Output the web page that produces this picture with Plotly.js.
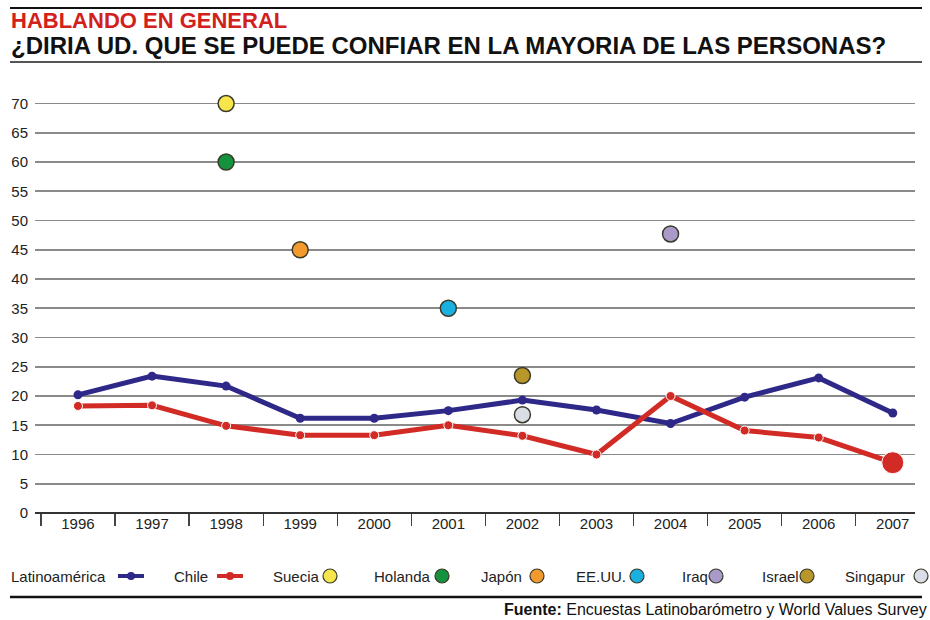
<!DOCTYPE html>
<html><head><meta charset="utf-8">
<script src="https://cdn.plot.ly/plotly-3.0.1.min.js"></script>
<style>body{margin:0;background:#fff}#chart{width:930px;height:620px}</style>
</head><body><div id="chart"></div>
<script>
const years = ['1996','1997','1998','1999','2000','2001','2002','2003','2004','2005','2006','2007'];
const latamValues = [20.2, 23.4, 21.7, 16.2, 16.2, 17.5, 19.3, 17.6, 15.3, 19.8, 23.1, 17.1];
const chileValues = [18.3, 18.4, 14.9, 13.3, 13.3, 15.0, 13.2, 10.0, 20.0, 14.1, 12.9, 8.6];
const countryNames = ['Suecia','Holanda','Japón','EE.UU.','Iraq','Israel','Singapur'];
const countryYears = ['1998','1998','1999','2001','2004','2002','2002'];
const countryValues = [70, 60, 45, 35, 47.7, 23.5, 16.8];
const countryColors = ['#f6e64c','#14923e','#f29a2e','#1ab0e2','#a99ac9','#b8962a','#d9dde6'];
const yTicks = [0,5,10,15,20,25,30,35,40,45,50,55,60,65,70];

const FONT = '"Liberation Sans Narrow", "Liberation Sans", Arial, sans-serif';
const traces = [];
traces.push({x: years, y: latamValues, type:'scatter', mode:'lines+markers', name:'Latinoamérica',
  line:{color:'#2e2888', width:5}, marker:{size:9, color:'#2e2888', opacity:1}, showlegend:false, hoverinfo:'skip', cliponaxis:false});
const chileSizes = chileValues.map((v,i)=> i===chileValues.length-1 ? 22 : 9);
traces.push({x: years, y: chileValues, type:'scatter', mode:'lines+markers', name:'Chile',
  line:{color:'#d22b26', width:5}, marker:{size:chileSizes, color:'#d22b26', opacity:1}, showlegend:false, hoverinfo:'skip', cliponaxis:false});
countryNames.forEach((n,i)=>{
  traces.push({x:[countryYears[i]], y:[countryValues[i]], type:'scatter', mode:'markers', name:n,
    marker:{size:16, color:countryColors[i], opacity:1, line:{color:'#3a3a2a', width:1.5}}, showlegend:false, hoverinfo:'skip', cliponaxis:false});
});

const W=930, H=620;
const M = {l:35, r:15, t:86, b:107};
const PW = W - M.l - M.r, PH = H - M.t - M.b;
const px = x => (x - M.l)/PW, py = y => (H - M.b - y)/PH;

const legendItems = [
  {t:'Latinoamérica', tx:9, sx:131, kind:'line', c:'#2e2888'},
  {t:'Chile', tx:172, sx:230, kind:'line', c:'#d22b26'},
  {t:'Suecia', tx:271, sx:330, kind:'dot', c:countryColors[0]},
  {t:'Holanda', tx:372, sx:442, kind:'dot', c:countryColors[1]},
  {t:'Japón', tx:479, sx:537, kind:'dot', c:countryColors[2]},
  {t:'EE.UU.', tx:574, sx:637, kind:'dot', c:countryColors[3]},
  {t:'Iraq', tx:680, sx:716, kind:'dot', c:countryColors[4]},
  {t:'Israel', tx:760, sx:807, kind:'dot', c:countryColors[5]},
  {t:'Singapur', tx:843, sx:921, kind:'dot', c:countryColors[6]}
];
const shapes = [
  {type:'line', xref:'paper', yref:'paper', x0:px(10), x1:px(922), y0:py(8), y1:py(8), line:{color:'#111', width:2}},
  {type:'line', xref:'paper', yref:'paper', x0:px(10), x1:px(922), y0:py(62), y1:py(62), line:{color:'#555', width:2}},
  {type:'line', xref:'paper', yref:'paper', x0:px(10), x1:px(922), y0:py(597), y1:py(597), line:{color:'#111', width:2.5}}
];
const annotations = [
  {xref:'paper', yref:'paper', x:px(9), y:py(20), xanchor:'left', yanchor:'middle', showarrow:false,
   text:'<b>HABLANDO EN GENERAL</b>', font:{family:FONT, size:22, color:'#d2201c'}},
  {xref:'paper', yref:'paper', x:px(9), y:py(46), xanchor:'left', yanchor:'middle', showarrow:false,
   text:'<b>¿DIRIA UD. QUE SE PUEDE CONFIAR EN LA MAYORIA DE LAS PERSONAS?</b>', font:{family:FONT, size:24, color:'#111'}},
  {xref:'paper', yref:'paper', x:px(929), y:py(609), xanchor:'right', yanchor:'middle', showarrow:false,
   text:'<b>Fuente:</b> Encuestas Latinobarómetro y World Values Survey', font:{family:FONT, size:16, color:'#111'}}
];
legendItems.forEach(it=>{
  annotations.push({xref:'paper', yref:'paper', x:px(it.tx), y:py(576), xanchor:'left', yanchor:'middle', showarrow:false,
    text:it.t, font:{family:FONT, size:15, color:'#222'}});
  if(it.kind==='line'){
    shapes.push({type:'line', xref:'paper', yref:'paper', x0:px(it.sx-13), x1:px(it.sx+13), y0:py(576), y1:py(576), line:{color:it.c, width:4}});
    shapes.push({type:'circle', xref:'paper', yref:'paper', x0:px(it.sx-4), x1:px(it.sx+4), y0:py(580), y1:py(572), fillcolor:it.c, line:{color:it.c, width:0}});
  } else {
    shapes.push({type:'circle', xref:'paper', yref:'paper', x0:px(it.sx-7), x1:px(it.sx+7), y0:py(583), y1:py(569), fillcolor:it.c, line:{color:'#3a3a2a', width:1.2}});
  }
});

const layout = {
  width:W, height:H, paper_bgcolor:'#fff', plot_bgcolor:'#fff',
  margin:M, showlegend:false,
  font:{family:FONT, size:15, color:'#222'},
  xaxis:{type:'category', range:[-0.58, 11.3], showgrid:false, zeroline:false, showline:false,
    ticks:'outside', tickson:'boundaries', ticklen:12, tickcolor:'#444', tickwidth:1.2,
    tickfont:{family:FONT, size:15, color:'#222'}, fixedrange:true},
  yaxis:{range:[0, 73], tickvals:yTicks, ticktext:yTicks.map(String), showgrid:true, gridcolor:'#8a8a8a', gridwidth:1.6,
    zeroline:true, zerolinecolor:'#333', zerolinewidth:1.6, showline:false, ticks:'', ticklabelstandoff:6,
    tickfont:{family:FONT, size:15, color:'#222'}, fixedrange:true},
  shapes:shapes, annotations:annotations
};
Plotly.newPlot('chart', traces, layout, {displayModeBar:false, staticPlot:true});
</script></body></html>
